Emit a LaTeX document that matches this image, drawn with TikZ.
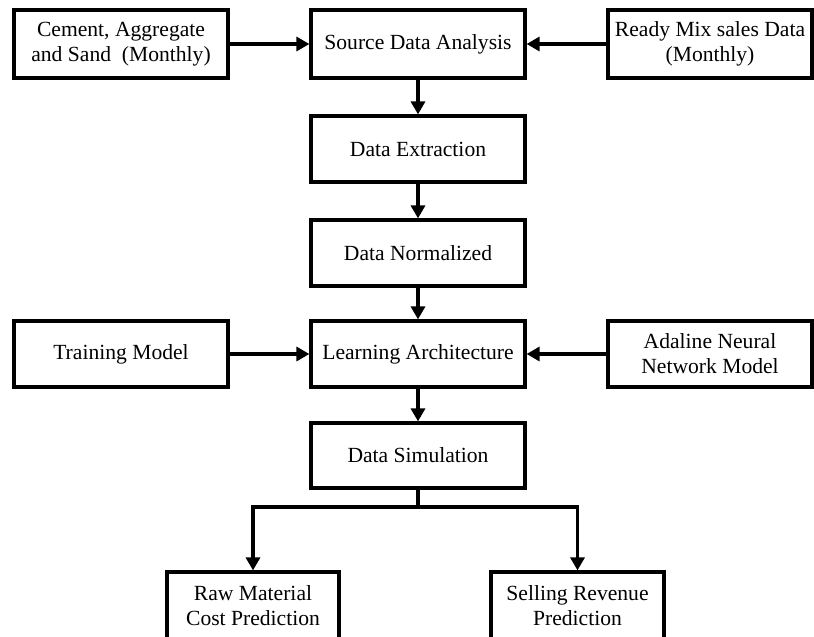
\documentclass[tikz,border=0pt]{standalone}
\usepackage{fontspec}
\setmainfont{Liberation Serif}
\usetikzlibrary{arrows.meta}
\begin{document}
\begin{tikzpicture}[
    x=1pt, y=-1pt,
    box/.style={draw, line width=3.2pt, minimum width=214pt, minimum height=66pt,
      inner sep=0pt, align=center, font=\fontsize{21.6}{25}\selectfont},
    arr/.style={line width=3.2pt, -{Triangle[length=13pt,width=14pt]}},
    link/.style={line width=3.2pt}
]
\useasboundingbox (0,0) rectangle (814,637);

% inputs and main column
\node[box, minimum height=68pt] (cement) at (121,44) {Cement, Aggregate\\and Sand\ \ (Monthly)};
\node[box, minimum height=68pt] (source) at (418,44) {Source Data Analysis};
\node[box, minimum height=68pt, minimum width=204pt] (ready) at (710,44) {Ready Mix sales Data\\(Monthly)};
\node[box] (extract) at (418,149) {Data Extraction};
\node[box] (norm) at (418,253) {Data Normalized};

% learning stage
\node[box] (train) at (121,354) {Training Model};
\node[box] (learn) at (418,354) {Learning Architecture};
\node[box, minimum width=204pt] (adaline) at (710,354) {Adaline Neural\\Network Model};
\node[box, minimum height=65pt] (sim) at (418,455.5) {Data Simulation};

% outputs
\node[box, minimum width=172pt, minimum height=68pt] (raw) at (253,606) {Raw Material\\Cost Prediction};
\node[box, minimum width=173pt, minimum height=68pt] (sell) at (577.5,606) {Selling Revenue\\Prediction};
\coordinate (split) at (418,507);

\draw[arr] (cement) -- (source);
\draw[arr] (ready) -- (source);
\draw[arr] (source) -- (extract);
\draw[arr] (extract) -- (norm);
\draw[arr] (norm) -- (learn);
\draw[arr] (train) -- (learn);
\draw[arr] (adaline) -- (learn);
\draw[arr] (learn) -- (sim);
\draw[link] (sim) -- (split);
\draw[arr] (split) -| (raw);
\draw[arr] (split) -| (sell);
\end{tikzpicture}
\end{document}
